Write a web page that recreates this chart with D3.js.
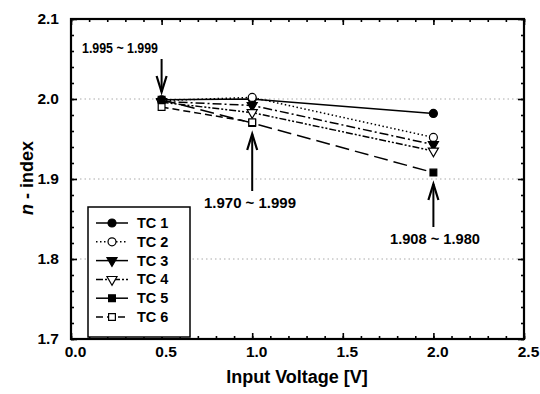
<!DOCTYPE html>
<html>
<head>
<meta charset="utf-8">
<script src="https://cdn.jsdelivr.net/npm/d3@7/dist/d3.min.js"></script>
<style>
  html, body { margin: 0; padding: 0; background: #fff; }
  svg { display: block; font-family: "Liberation Sans", Arial, Helvetica, sans-serif; }
</style>
</head>
<body>
<svg id="chart" width="540" height="394"></svg>
<script>
// Refractive index vs. input voltage for six test conditions
const voltages = [0.5, 1.0, 2.0];
const seriesNames = ["TC 1", "TC 2", "TC 3", "TC 4", "TC 5", "TC 6"];
const tc1 = [1.999, 2.000, 1.982];
const tc2 = [1.998, 2.002, 1.952];
const tc3 = [1.997, 1.992, 1.943];
const tc4 = [1.996, 1.983, 1.935];
const tc5 = [1.999, 1.970, 1.908];
const tc6 = [1.990, 1.971];
const seriesValues = [tc1, tc2, tc3, tc4, tc5, tc6];

const xTicks = [0.0, 0.5, 1.0, 1.5, 2.0, 2.5];
const yTicks = [1.7, 1.8, 1.9, 2.0, 2.1];
const gridValues = [1.8, 1.9, 2.0];

// range annotations at three voltages
const annotationX = [0.5, 1.0, 2.0];
const annotationText = ["1.995 ~ 1.999", "1.970 ~ 1.999", "1.908 ~ 1.980"];

const svg = d3.select("#chart");
const plotL = 71, plotR = 524, plotT = 19, plotB = 339;

const x = d3.scaleLinear().domain([0, 2.5]).range([plotL, plotR]);
const y = d3.scaleLinear().domain([1.7, 2.1]).range([plotB, plotT]);

// marker style per series
const marker = [
  { type: d3.symbolCircle, fill: "#000", rot: 0, size: 50 },
  { type: d3.symbolCircle, fill: "#fff", rot: 0, size: 50 },
  { type: d3.symbolTriangle, fill: "#000", rot: 180, size: 44 },
  { type: d3.symbolTriangle, fill: "#fff", rot: 180, size: 44 },
  { type: d3.symbolSquare, fill: "#000", rot: 0, size: 46 },
  { type: d3.symbolSquare, fill: "#fff", rot: 0, size: 46 }
];
const dashPlot = [null, "1.5,2.5", "9,3,2,3", "7,2,2,2,2,2", "14,6", "7,4"];
const dashLegend = [null, "1.5,2.5", null, "7,2,2,2,2,2", null, "7,4"];

// dotted horizontal grid
svg.append("g").selectAll("line").data(gridValues).join("line")
  .attr("x1", plotL).attr("x2", plotR)
  .attr("y1", d => y(d)).attr("y2", d => y(d))
  .attr("stroke", "#aaa").attr("stroke-width", 1)
  .attr("stroke-dasharray", "1.5,3");

// axes with inward ticks on all four sides
function styleAxis(g) {
  g.select(".domain").remove();
  g.selectAll(".tick line").attr("stroke", "#000").attr("stroke-width", 1.6);
  g.selectAll(".tick text").attr("font-size", 15.5).attr("font-weight", "bold").attr("fill", "#000");
}
const xMinor = d3.range(0, 2.5001, 0.1);
const yMinor = d3.range(1.7, 2.1001, 0.02);

svg.append("g").attr("transform", `translate(0,${plotB})`)
  .call(d3.axisBottom(x).tickValues(xMinor).tickSize(-3).tickFormat("")).call(styleAxis);
svg.append("g").attr("transform", `translate(0,${plotB})`)
  .call(d3.axisBottom(x).tickValues(xTicks).tickSize(-6).tickPadding(7).tickFormat(d3.format(".1f")))
  .call(styleAxis)
  .call(g => g.selectAll(".tick text").attr("dx", 4));
svg.append("g").attr("transform", `translate(0,${plotT})`)
  .call(d3.axisTop(x).tickValues(xMinor).tickSize(-3).tickFormat("")).call(styleAxis);
svg.append("g").attr("transform", `translate(0,${plotT})`)
  .call(d3.axisTop(x).tickValues(xTicks).tickSize(-6).tickFormat("")).call(styleAxis);

svg.append("g").attr("transform", `translate(${plotL},0)`)
  .call(d3.axisLeft(y).tickValues(yMinor).tickSize(-3).tickFormat("")).call(styleAxis);
svg.append("g").attr("transform", `translate(${plotL},0)`)
  .call(d3.axisLeft(y).tickValues(yTicks).tickSize(-6).tickPadding(12).tickFormat(d3.format(".1f")))
  .call(styleAxis);
svg.append("g").attr("transform", `translate(${plotR},0)`)
  .call(d3.axisRight(y).tickValues(yMinor).tickSize(-3).tickFormat("")).call(styleAxis);
svg.append("g").attr("transform", `translate(${plotR},0)`)
  .call(d3.axisRight(y).tickValues(yTicks).tickSize(-6).tickFormat("")).call(styleAxis);

// frame
svg.append("rect").attr("x", plotL).attr("y", plotT)
  .attr("width", plotR - plotL).attr("height", plotB - plotT)
  .attr("fill", "none").attr("stroke", "#000").attr("stroke-width", 2.2);

// axis titles
svg.append("text").attr("x", 297).attr("y", 383)
  .attr("text-anchor", "middle").attr("font-size", 18).attr("font-weight", "bold")
  .text("Input Voltage [V]");
const yt = svg.append("text").attr("transform", `translate(33,178) rotate(-90)`)
  .attr("text-anchor", "middle").attr("font-size", 18).attr("font-weight", "bold");
yt.append("tspan").attr("font-style", "italic").text("n");
yt.append("tspan").text(" - index");

// series lines
const line = d3.line().x((d, i) => x(voltages[i])).y(d => y(d));
svg.append("g").selectAll("path").data(seriesValues).join("path")
  .attr("d", d => line(d))
  .attr("fill", "none").attr("stroke", "#000").attr("stroke-width", 1.5)
  .attr("stroke-dasharray", (d, i) => dashPlot[i]);

// markers
function drawMarker(g, i, cx, cy) {
  const m = marker[i];
  g.append("path")
    .attr("d", d3.symbol().type(m.type).size(m.size)())
    .attr("transform", `translate(${cx},${cy}) rotate(${m.rot})`)
    .attr("fill", m.fill).attr("stroke", "#000").attr("stroke-width", 1.2);
}
const mg = svg.append("g");
seriesValues.forEach((vals, i) => {
  vals.forEach((v, j) => drawMarker(mg, i, x(voltages[j]), y(v)));
});

// range annotations with arrows (a0 = tail, a1 = head)
const annPos = [
  { textY: 53, a0: 59, a1: 92, cx: 120, w: 76 },
  { textY: 208, a0: 191, a1: 134, cx: 250, w: 92 },
  { textY: 244, a0: 227, a1: 184, cx: 435, w: 90 }
];
annotationX.forEach((vx, i) => {
  const ax = x(vx), a = annPos[i];
  const dir = Math.sign(a.a1 - a.a0);
  svg.append("line").attr("x1", ax).attr("x2", ax).attr("y1", a.a0).attr("y2", a.a1)
    .attr("stroke", "#000").attr("stroke-width", 2);
  const hy = a.a1 - dir * 16;
  svg.append("path")
    .attr("d", `M${ax - 5},${hy} L${ax},${a.a1} L${ax + 5},${hy}`)
    .attr("fill", "none").attr("stroke", "#000").attr("stroke-width", 2.2);
  svg.append("text").attr("x", a.cx).attr("y", a.textY)
    .attr("text-anchor", "middle").attr("font-size", 14).attr("font-weight", "bold")
    .attr("textLength", a.w).attr("lengthAdjust", "spacingAndGlyphs")
    .text(annotationText[i]);
});

// legend
const lx = 88, ly = 207, lw = 102, lh = 130;
svg.append("rect").attr("x", lx).attr("y", ly).attr("width", lw).attr("height", lh)
  .attr("fill", "#fff").attr("stroke", "#000").attr("stroke-width", 1.5);
seriesNames.forEach((name, i) => {
  const ry = 223 + i * 18.8;
  const g = svg.append("g");
  g.append("line").attr("x1", 96).attr("x2", 128).attr("y1", ry).attr("y2", ry)
    .attr("stroke", "#000").attr("stroke-width", 1.5)
    .attr("stroke-dasharray", dashLegend[i]);
  drawMarker(g, i, 112, ry);
  g.append("text").attr("x", 137).attr("y", ry + 5)
    .attr("font-size", 14.5).attr("font-weight", "bold").text(name);
});
</script>
</body>
</html>
